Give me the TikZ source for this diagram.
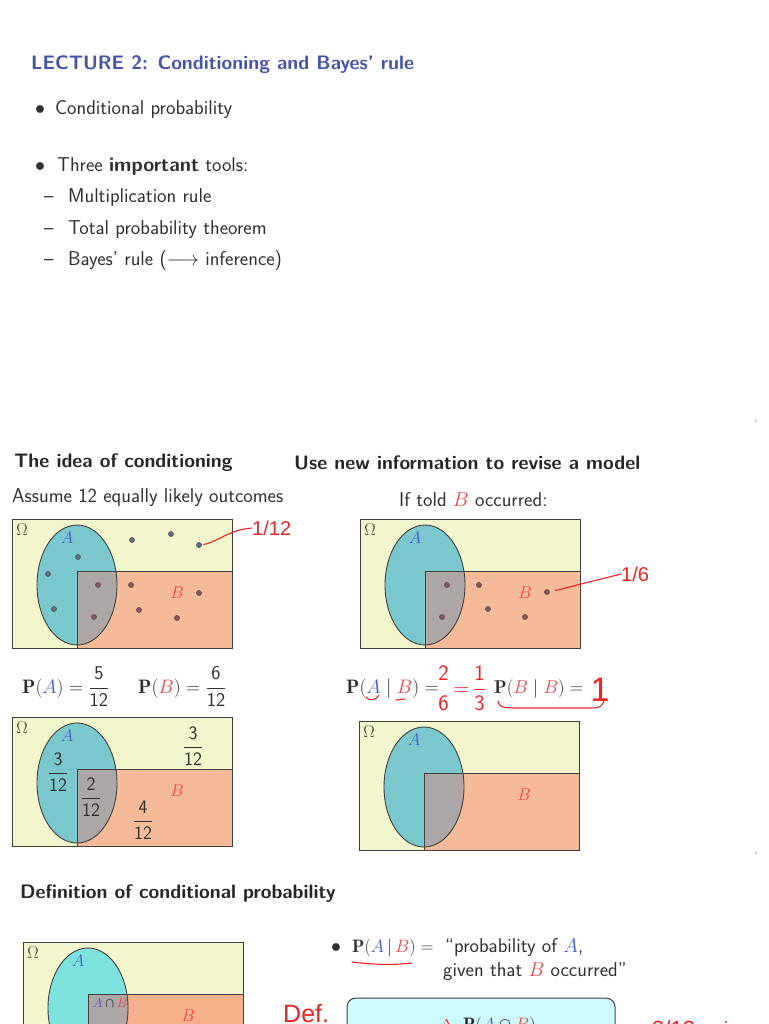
\RequirePackage{fix-cm}
\documentclass[tikz,border=0pt]{standalone}
\usepackage{amsmath,amssymb}
\usepackage{fontspec}
\usepackage{xcolor}
\renewcommand{\familydefault}{\sfdefault}
\newfontfamily\handfont{Liberation Sans}

\definecolor{titleblue}{RGB}{70,84,168}
\definecolor{inkgray}{RGB}{48,48,48}
\definecolor{omegafill}{RGB}{243,246,205}
\definecolor{afill}{RGB}{122,200,206}
\definecolor{abright}{RGB}{125,226,222}
\definecolor{bfill}{RGB}{245,187,152}
\definecolor{bdeep}{RGB}{246,176,140}
\definecolor{capfill}{RGB}{172,166,166}
\definecolor{ablue}{RGB}{70,90,205}
\definecolor{bred}{RGB}{232,70,70}
\definecolor{pen}{RGB}{235,35,35}
\definecolor{boxfill}{RGB}{205,250,252}
\definecolor{dotout}{RGB}{95,112,130}
\definecolor{dotin}{RGB}{150,82,92}

\tikzset{
  edge/.style={draw=black!75, line width=0.9pt},
  setlbl/.style={inner sep=0pt, font=\fontsize{17}{17}\selectfont},
  body/.style={anchor=base west, inner sep=0pt, text=inkgray, font=\fontsize{20}{24}\selectfont},
  head/.style={body, text=black!85, font=\fontsize{19.5}{23}\selectfont\bfseries},
  maths/.style={body, font=\fontsize{19.5}{22}\selectfont},
  share/.style={inner sep=0pt, text=inkgray, font=\fontsize{19}{19}\selectfont},
  outcome/.style={circle, draw=black!70, fill=#1, line width=0.6pt, minimum size=5pt, inner sep=0pt},
  outcome/.default=dotout,
  ink/.style={draw=pen, line width=1.1pt, line cap=round},
  scrawl/.style={text=pen, inner sep=0pt, font=\handfont\fontsize{20}{20}\selectfont},
  pageno/.style={text=black!60, inner sep=0pt, font=\fontsize{4}{4}\selectfont},
}

% sample space with A and B: name, left, top, height, colour of A, colour of B
\newcommand\venn[6]{%
  \begin{scope}[shift={(#2,#3)}]
    \fill[omegafill] (0,0) rectangle (220,#4);
    \fill[#5] (65,66) ellipse (40 and 60);
    \fill[#6] (65,52) rectangle (220,#4);
    \begin{scope}
      \clip (65,66) ellipse (40 and 60);
      \fill[capfill] (65,52) rectangle (220,#4);
    \end{scope}
    \draw[edge] (65,66) ellipse (40 and 60);
    \draw[edge] (65,#4) |- (220,52);
    \draw[edge] (0,0) rectangle (220,#4);
    \node[setlbl, text=black!80] (#1-omega) at (10,11) {$\Omega$};
    \node[setlbl, text=ablue] (#1-A) at (55,19) {$A$};
    \node[setlbl, text=bred] (#1-B) at (165,74) {$B$};
  \end{scope}}

\begin{document}
\begin{tikzpicture}[x=1pt,y=-1pt]
  \useasboundingbox (0,0) rectangle (768,1024);
  \fill[white] (0,0) rectangle (768,1024);
  \clip (0,0) rectangle (768,1024);

  % ---- slide 1
  \node[head, text=titleblue] (title) at (31,70) {LECTURE 2: Conditioning and Bayes' rule};
  \node[body] (dot1) at (35,115) {$\bullet$};
  \node[body] (cond) at (55,115) {Conditional probability};
  \node[body] (dot2) at (35,172) {$\bullet$};
  \node[body] (tools) at (57,172) {Three \textbf{important} tools:};
  \node[body] (dash1) at (44,203) {\textendash};
  \node[body] (mult) at (68,203) {Multiplication rule};
  \node[body] (dash2) at (44,234) {\textendash};
  \node[body] (total) at (68,234) {Total probability theorem};
  \node[body] (dash3) at (44,265) {\textendash};
  \node[body] (bayes) at (68,265) {Bayes' rule ($\longrightarrow$ inference)};
  \node[pageno] (page1) at (756,421) {1};

  % ---- slide 2
  \node[head] (idea) at (14,467) {The idea of conditioning};
  \node[head] (revise) at (294,469) {Use new information to revise a model};
  \node[body] (assume) at (12,502) {Assume 12 equally likely outcomes};
  \node[body] (told) at (399,506) {If told \textcolor{bred}{$B$} occurred:};

  \venn{tl}{12}{519}{129}{afill}{bfill}
  \venn{tr}{360}{519}{129}{afill}{bfill}
  \venn{bl}{12}{717}{129}{afill}{bfill}
  \venn{br}{359}{721}{129}{afill}{bfill}

  % outcomes
  \foreach \x/\y [count=\i] in {132/540, 171/534, 199/545, 78/557, 48/574, 54/609}
    \node[outcome] (lo\i) at (\x,\y) {};
  \foreach \x/\y [count=\i] in {98/585, 94/617, 131/585, 139/610, 177/618, 199/593}
    \node[outcome=dotin] (li\i) at (\x,\y) {};
  \foreach \x/\y [count=\i] in {447/585, 442/617, 479/585, 488/609, 525/617, 547/592}
    \node[outcome=dotin] (ri\i) at (\x,\y) {};

  % hand notes
  \node[scrawl, anchor=west] (twelfth) at (252,528) {1/12};
  \draw[ink, shorten <=2pt] (lo3.east) .. controls (222,540) and (228,530) .. (twelfth.west);
  \node[scrawl, anchor=west] (sixth) at (621,574) {1/6};
  \draw[ink, shorten <=6pt] (ri6.east) .. controls (585,583) and (605,578) .. (sixth.west);

  % probabilities
  \node[maths] (probA) at (22,693)
    {$\mathbf{P}(\textcolor{ablue}{A}) = \dfrac{\mathsf{5}}{\mathsf{12}}$};
  \node[maths] (probB) at (138,693)
    {$\mathbf{P}(\textcolor{bred}{B}) = \dfrac{\mathsf{6}}{\mathsf{12}}$};
  \node[maths] (condA) at (346,693)
    {$\mathbf{P}(\textcolor{ablue}{A}\mid\textcolor{bred}{B}) =$};
  \node[maths, font=\fontsize{18.5}{22}\selectfont] (condB) at (494,693)
    {$\mathbf{P}(\textcolor{bred}{B}\mid\textcolor{bred}{B}) =$};
  \node[scrawl, anchor=west, font=\fontsize{22}{22}\selectfont] (ratio) at (437,688)
    {$\genfrac{}{}{0pt}{0}{\mathsf{2}}{\mathsf{6}}\,{=}\,\genfrac{}{}{0.6pt}{0}{\mathsf{1}}{\mathsf{3}}$};
  \node[scrawl, font=\handfont\fontsize{34}{34}\selectfont] (one) at (600,690) {1};
  \draw[ink] (366,697) .. controls (368,701) and (376,701) .. (379,695);
  \draw[ink] (396,700) -- (405,699);
  \draw[ink] (498,701) .. controls (499,708) and (505,708) .. (520,708)
    -- (590,708) .. controls (600,708) and (604,706) .. (604,698);

  % shares of the outcomes
  \node[share] (shareA) at (58,772) {$\dfrac{\mathsf{3}}{\mathsf{12}}$};
  \node[share] (shareAB) at (91,797) {$\dfrac{\mathsf{2}}{\mathsf{12}}$};
  \node[share] (shareB) at (143,820) {$\dfrac{\mathsf{4}}{\mathsf{12}}$};
  \node[share] (shareO) at (193,746) {$\dfrac{\mathsf{3}}{\mathsf{12}}$};
  \node[pageno] (page2) at (756,853) {2};

  % ---- slide 3
  \node[head] (defhead) at (20,898) {Definition of conditional probability};
  \venn{dc}{23}{942}{140}{abright}{bdeep}
  \node[inner sep=0pt, font=\fontsize{13}{13}\selectfont] (cap) at (110,1003)
    {$\textcolor{ablue}{A}\cap\textcolor{bred}{B}$};
  \node[share] (capshare) at (103,1033) {2};

  \node[body] (dot3) at (331,952) {$\bullet$};
  \node[body, font=\fontsize{18}{21}\selectfont] (defcond) at (352,952)
    {$\mathbf{P}(\textcolor{ablue}{A}\,|\,\textcolor{bred}{B}) =$};
  \node[body] (meaning1) at (445,952) {“probability of \textcolor{ablue}{$A$},};
  \node[body] (meaning2) at (443,976) {given that \textcolor{bred}{$B$} occurred”};
  \draw[ink] (352,962) .. controls (375,965) and (395,965) .. (412,963);

  \node[scrawl, anchor=base west, font=\handfont\fontsize{25}{25}\selectfont] (defmark) at (283,1022) {Def.};
  \draw[draw=black!75, fill=boxfill, line width=1pt, rounded corners=9pt] (347,998) rectangle (615,1100);
  \node[scrawl, anchor=base west, font=\fontsize{16}{16}\selectfont] (delta) at (440,1030) {$\Delta$};
  \node[body, text=black!85, font=\fontsize{18}{21}\selectfont] (numer) at (463,1030)
    {$\mathbf{P}(\textcolor{ablue}{A}\cap\textcolor{bred}{B})$};
  \node[scrawl, anchor=base west, font=\handfont\fontsize{22}{22}\selectfont] (threetw) at (652,1036) {3/12};
  \fill[pen] (726,1022) circle (1.2);
\end{tikzpicture}
\end{document}
